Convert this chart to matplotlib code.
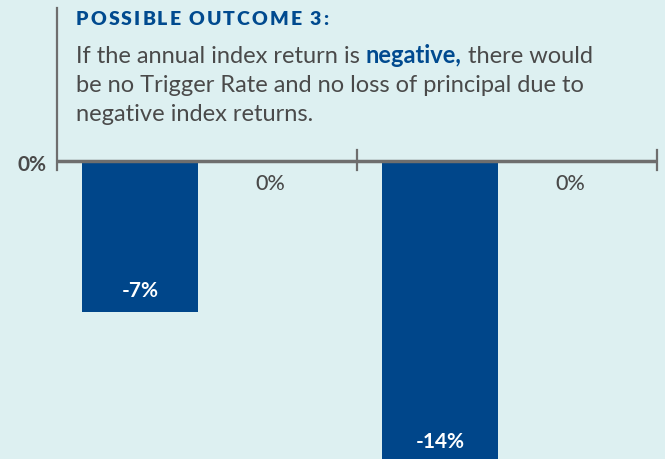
import matplotlib
matplotlib.use("Agg")
import matplotlib.pyplot as plt

# data
groups = ["Year 1", "Year 2"]
index_return = [-7, -14]
credited_rate = [0, 0]

bg = "#ddf0f1"
bar_color = "#00468a"
axis_color = "#6e6e6e"
text_gray = "#4a4a4a"
title_blue = "#004a8f"

plt.rcParams["font.family"] = ["Lato", "DejaVu Sans"]

W, H = 665, 459
fig = plt.figure(figsize=(W / 100, H / 100), dpi=100)
fig.patch.set_facecolor(bg)

# axes: x from px 57 to 657, y from px 8 to 459
ax = fig.add_axes([57 / W, 0, 600 / W, 451 / H])
ax.set_facecolor(bg)
px_per_pct = 21.6
ax.set_ylim(-(459 - 161) / px_per_pct, (161 - 8) / px_per_pct)
ax.set_xlim(0, len(groups))

bar_off = 0.278
bar_w = 0.387
lab_off = 0.71
for i, (v, c) in enumerate(zip(index_return, credited_rate)):
    ax.bar(i + bar_off, v, width=bar_w, color=bar_color, zorder=2)
    ax.text(i + bar_off, v + 0.72, f"{v}%", color="white", fontsize=15,
            fontweight="bold", ha="center", va="baseline", zorder=3)
    ax.text(i + lab_off, c - 29 / px_per_pct, f"{c}%", color=text_gray,
            fontsize=15.5, fontweight="medium", ha="center", va="baseline")

for s in ax.spines.values():
    s.set_visible(False)
ax.axhline(0, color=axis_color, lw=2.5, zorder=3)
ax.axvline(0, ymin=(459 - 170) / 451, ymax=1, color=axis_color, lw=1.6,
           clip_on=False)
ax.set_xticks([])
ax.set_yticks([])
# tick marks centred on zero line
for x in range(1, len(groups) + 1):
    ax.plot([x, x], [-9 / px_per_pct, 11 / px_per_pct], color=axis_color,
            lw=1.6, clip_on=False, zorder=3)

fig.text(32 / W, 1 - 171 / H, "0%", color=text_gray, fontsize=15,
         fontweight="bold", ha="center", va="baseline")

fig.canvas.draw()
r = fig.canvas.get_renderer()

# title with letter spacing
x = 76
for ch in "POSSIBLE OUTCOME 3:":
    t = fig.text(x / W, 1 - 25 / H, ch, color=title_blue, fontsize=14,
                 fontweight="heavy", ha="left", va="baseline")
    x = t.get_window_extent(r).x1 + 2.0 if ch != " " else x + 6

fs = 17
y1 = 1 - 63 / H
t1 = fig.text(76 / W, y1, "If the annual index return is ", color=text_gray,
              fontsize=fs, ha="left", va="baseline")
x = t1.get_window_extent(r).x1
t2 = fig.text(x / W, y1, "negative,", color=title_blue, fontsize=fs,
              fontweight="bold", ha="left", va="baseline")
x = t2.get_window_extent(r).x1
fig.text(x / W + 0.009, y1, "there would", color=text_gray, fontsize=fs,
         ha="left", va="baseline")
fig.text(76 / W, 1 - 92 / H, "be no Trigger Rate and no loss of principal due to",
         color=text_gray, fontsize=fs, ha="left", va="baseline")
fig.text(76 / W, 1 - 121 / H, "negative index returns.",
         color=text_gray, fontsize=fs, ha="left", va="baseline")

fig.savefig("out.png", dpi=100, facecolor=bg)
